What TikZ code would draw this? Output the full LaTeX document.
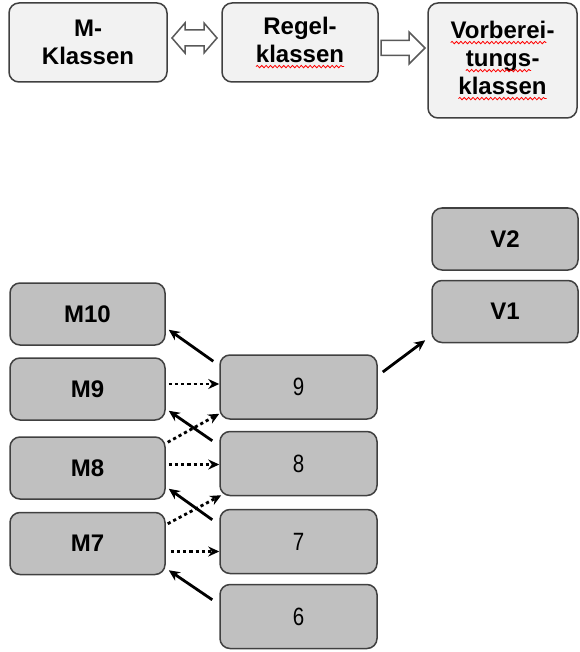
\documentclass[tikz,border=0pt]{standalone}
\usepackage{fontspec}
\setmainfont{Liberation Sans}
\usetikzlibrary{arrows.meta,calc,decorations.pathmorphing}

\definecolor{boxline}{HTML}{404040}
\definecolor{lightbox}{HTML}{F2F2F2}
\definecolor{darkbox}{HTML}{C0C0C0}

% red wavy underline of the spell checker
\newcommand{\spellwave}[1]{\tikz[baseline=(sw.base)]{%
  \node[draw=none, fill=none, inner sep=0pt, outer sep=0pt, minimum size=0pt, anchor=base] (sw) at (0,0) {#1};
  \draw[red, line width=0.4pt, sharp corners, dash pattern=on 1pt off 0pt, decorate,
    decoration={snake, amplitude=0.6pt, segment length=2.2pt}]
    ([yshift=-2.2pt]sw.base west) -- ([yshift=-2.2pt]sw.base east);}}

\begin{document}
\begin{tikzpicture}[x=0.5pt,y=-0.5pt,
  topbox/.style={draw=boxline, line width=0.75pt, fill=lightbox, rounded corners=5pt,
    align=center, inner sep=0pt, font=\fontsize{12}{14}\selectfont\bfseries},
  classbox/.style={draw=boxline, line width=0.75pt, fill=darkbox, rounded corners=5pt,
    minimum width=77.5pt, minimum height=31pt, font=\fontsize{12}{14}\selectfont\bfseries},
  rulebox/.style={classbox, minimum width=78.5pt, minimum height=32pt,
    font=\fontsize{12.5}{14}\selectfont\addfontfeatures{FakeStretch=0.82}},
  blockarrow/.style={draw=black!65, line width=0.75pt, fill=white, line join=miter},
  back/.style={-{Stealth[length=5.5pt,width=5pt]}, line width=1.4pt},
  feed/.style={-{Stealth[length=5.5pt,width=5pt]}, line width=1.4pt, dash pattern=on 1.6pt off 1.5pt}]
  \useasboundingbox (0,0) rectangle (579,652);

  % Class groups
  \node[topbox, minimum width=79pt, minimum height=39.5pt] (mk) at (88,42.5) {M-\\Klassen};
  \node[topbox, minimum width=78pt, minimum height=39.5pt] (rk) at (300,42.5) {Regel-\\\spellwave{klassen}};
  \node[topbox, minimum width=74.5pt, minimum height=57.5pt] (vk) at (502.5,60.5)
    {\spellwave{Vorberei}-\\\spellwave{tungs}-\\\spellwave{klassen}};

  % Block arrows between the groups
  \coordinate (mr) at ($(mk.east)!0.5!(rk.west)+(0,-4.5)$);
  \draw[blockarrow, shift={(mr)}] (-22.5,0) -- (-9.5,-15) -- (-9.5,-8) -- (9.5,-8) -- (9.5,-15)
    -- (22.5,0) -- (9.5,15) -- (9.5,8) -- (-9.5,8) -- (-9.5,15) -- cycle;
  \coordinate (rv) at ($(rk.east)!0.5!(vk.west)+(0,-3.5)$);
  \draw[blockarrow, shift={(rv)}] (-22,-7.5) -- (6,-7.5) -- (6,-16) -- (22,0) -- (6,16)
    -- (6,7.5) -- (-22,7.5) -- cycle;

  % Preparation classes
  \node[classbox, minimum width=73pt] (v2) at (505,239) {V2};
  \node[classbox, minimum width=73pt] (v1) at (505,311.5) {V1};

  % M classes
  \node[classbox] (m10) at (87.5,314) {M10};
  \node[classbox] (m9) at (87.5,389) {M9};
  \node[classbox] (m8) at (87.5,468) {M8};
  \node[classbox] (m7) at (87.5,543.5) {M7};

  % Rule classes
  \node[rulebox] (r9) at (298.5,387) {9};
  \node[rulebox] (r8) at (298.5,463.5) {8};
  \node[rulebox] (r7) at (298.5,541.5) {7};
  \node[rulebox] (r6) at (298.5,616.5) {6};

  % Rules back to the M classes
  \draw[back] ($(r9.north west)+(-6,7)$) -- ($(m10.south east)+(3,-16)$);
  \draw[back] ($(r8.north west)+(-7,10)$) -- ($(m9.south east)+(3,-10)$);
  \draw[back] ($(r7.north west)+(-7,11)$) -- ($(m8.south east)+(3,-11)$);
  \draw[back] ($(r6.north west)+(-7,16)$) -- ($(m7.south east)+(3,-5)$);

  % M classes feeding the rules
  \draw[feed] ($(m9.east |- r9.west)+(3,-3)$) -- ($(r9.west)+(0,-3)$);
  \draw[feed] ($(m8.east |- r8.west)+(3,1)$) -- ($(r8.west)+(0,1)$);
  \draw[feed] ($(m7.east |- r7.west)+(5,10)$) -- ($(r7.west)+(0,10)$);
  \draw[feed] ($(m8.north east)+(2,6)$) -- ($(r9.south west)+(0,-6)$);
  \draw[feed] ($(m7.north east)+(2,12)$) -- ($(r8.south west)+(2,-1)$);

  % Rule to preparation class
  \draw[back] ($(r9.east)+(5,-15)$) -- ($(v1.south west)+(-6,-3)$);
\end{tikzpicture}
\end{document}
